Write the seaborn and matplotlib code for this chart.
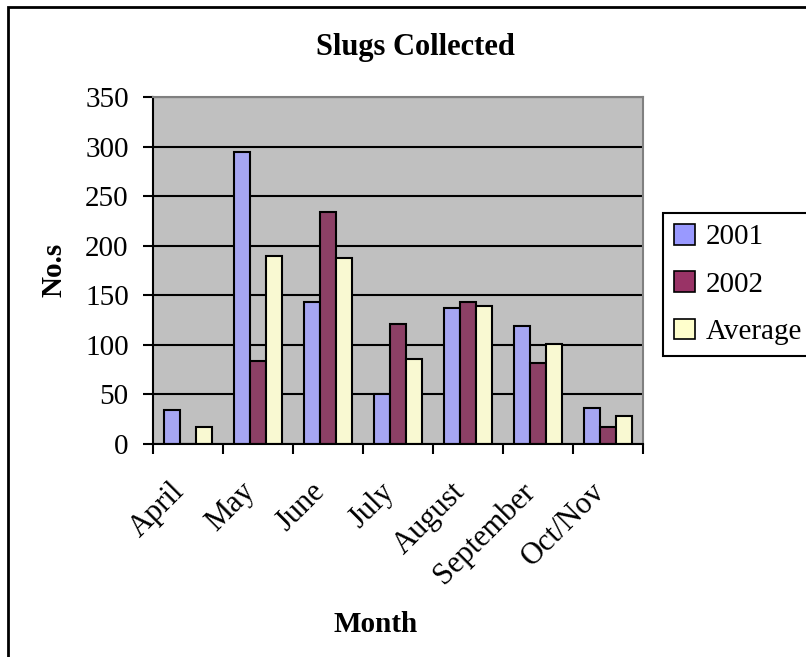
import matplotlib.pyplot as plt
import matplotlib.patches as mpatches
from matplotlib.transforms import ScaledTranslation
import seaborn as sns
import pandas as pd
import numpy as np

months = ['April', 'May', 'June', 'July', 'August', 'September', 'Oct/Nov']
series = ['2001', '2002', 'Average']
y2001 = [34, 295, 143, 50, 137, 119, 36]
y2002 = [0, 84, 234, 121, 143, 82, 17]
yavg = [17, 190, 188, 86, 139, 101, 28]
colors = ['#9999FF', '#993366', '#FFFFCC']

df = pd.DataFrame({
    'Month': months * 3,
    'Series': [s for s in series for _ in months],
    'Value': y2001 + y2002 + yavg,
})

sns.set_style('white')
plt.rcParams['font.family'] = ['Liberation Serif', 'DejaVu Serif']
plt.rcParams['text.color'] = 'black'
plt.rcParams['xtick.color'] = 'black'
plt.rcParams['ytick.color'] = 'black'

fig = plt.figure(figsize=(8.06, 6.57), dpi=100)
ax = fig.add_axes([153/806, 1 - 444/657, 490/806, 347/657])
ax.set_facecolor('#C0C0C0')

sns.barplot(data=df, x='Month', y='Value', hue='Series', palette=colors,
            width=0.69, edgecolor='black', linewidth=1.5, ax=ax, legend=False)

ax.set_ylim(0, 350)
ax.set_xlim(-0.5, 6.5)
ax.set_yticks(range(0, 351, 50))
ax.yaxis.grid(True, color='black', linewidth=1.5)
ax.set_axisbelow(True)

# tick marks at category boundaries, labels centred
ax.set_xticks(np.arange(-0.5, 7, 1))
ax.set_xticklabels([])
ax.set_xticks(range(7), minor=True)
ax.set_xticklabels(months, minor=True, rotation=45, ha='right',
                   rotation_mode='anchor', fontsize=22)
ax.tick_params(axis='x', which='minor', length=0, pad=24)
ax.tick_params(axis='x', which='major', direction='out', length=7, width=1.5,
               color='black', bottom=True)
ax.tick_params(axis='y', direction='out', length=7.5, width=1.5, color='black',
               left=True, labelsize=21, pad=10)
shift = ScaledTranslation(-18/100, 0, fig.dpi_scale_trans)
for lab in ax.get_xticklabels(minor=True):
    lab.set_transform(lab.get_transform() + shift)

for side in ['left', 'bottom']:
    ax.spines[side].set_color('black')
    ax.spines[side].set_linewidth(1.5)
for side in ['top', 'right']:
    ax.spines[side].set_color('#808080')
    ax.spines[side].set_linewidth(1.5)

ax.set_xlabel('')
ax.set_ylabel('')
fig.text(376/806, 1 - 625/657, 'Month', ha='center', va='center',
         fontsize=21, fontweight='bold')
fig.text(54/806, 1 - 270/657, 'No.s', ha='center', va='center',
         rotation=90, fontsize=21, fontweight='bold')
fig.text(415/806, 1 - 47/657, 'Slugs Collected', ha='center', va='center',
         fontsize=22, fontweight='bold')

handles = [mpatches.Patch(facecolor=c, edgecolor='black', linewidth=1.2, label=s)
           for c, s in zip(colors, series)]
leg = fig.legend(handles=handles, loc='upper left',
                 bbox_to_anchor=(663/806, 1 - 213/657), fontsize=21,
                 frameon=True, fancybox=False, framealpha=1,
                 edgecolor='black', handlelength=0.7, handleheight=0.7,
                 handletextpad=0.4, labelspacing=0.72, borderpad=0.38,
                 borderaxespad=0)
leg.get_frame().set_linewidth(1.5)

# outer chart border (left and top edges visible)
fig.patches.append(mpatches.Rectangle((8/806, -0.1), 1.1, 1 - 7/657 + 0.1,
                                      transform=fig.transFigure, fill=False,
                                      edgecolor='black', linewidth=2))

fig.savefig('out.png', dpi=100)
